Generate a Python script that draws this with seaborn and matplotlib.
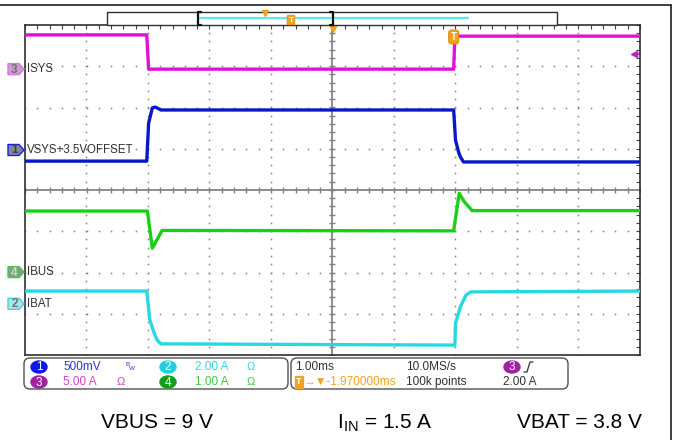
import numpy as np
import pandas as pd
import matplotlib
matplotlib.use('Agg')
import matplotlib.pyplot as plt
import seaborn as sns
from matplotlib.patches import FancyBboxPatch, Ellipse, Polygon, Rectangle

# scope traces: time in ms (trigger at 0), level in screen divisions
isys_t = [-6.97, -4.99, -4.96, 0.0, 0.02, 3.03]
isys_v = [3.76, 3.76, 2.93, 2.93, 3.73, 3.73]

vsys_t = [-6.97, -4.99, -4.96, -4.90, -4.85, -4.76, 0.0, 0.03, 0.08, 0.11, 0.16, 3.03]
vsys_v = [0.70, 0.70, 1.62, 1.99, 2.01, 1.94, 1.94, 1.21, 0.92, 0.80, 0.68, 0.68]

ibus_t = [-6.97, -4.98, -4.90, -4.74, 0.0, 0.09, 0.17, 0.30, 3.03]
ibus_v = [-0.51, -0.51, -1.41, -0.98, -0.99, -0.08, -0.28, -0.50, -0.50]

ibat_t = [-6.97, -4.99, -4.94, -4.87, -4.82, -4.76, 0.02, 0.03, 0.11, 0.20, 0.28, 3.03]
ibat_v = [-2.45, -2.45, -3.15, -3.47, -3.64, -3.73, -3.76, -3.23, -2.83, -2.55, -2.47, -2.45]

# channel name, number, ground level (div)
ch_names = ['ISYS', 'VSYS+3.5VOFFSET', 'IBUS', 'IBAT']
ch_nums = ['3', '1', '4', '2']
ch_levels = [2.93, 0.97, -1.99, -2.76]

center = -1.97  # horizontal position, ms

sns.set_style('white')
plt.rcParams['font.family'] = ['Liberation Sans', 'DejaVu Sans']

fig = plt.figure(figsize=(6.73, 4.40), dpi=100)
ax = fig.add_axes([25/673, 85/440, 615/673, 330/440])
ax.set_xlim(center - 5, center + 5)
ax.set_ylim(-4, 4)

# dotted graticule
ys = np.arange(-4, 4.01, 0.2)
for k in range(-4, 5):
    if k != 0:
        ax.plot(np.full_like(ys, center + k), ys, ls='none', marker='s', ms=1.1, mew=0, color='#808080')
xs = center + np.arange(-5, 5.01, 0.2)
for k in range(-3, 4):
    if k != 0:
        ax.plot(xs, np.full_like(xs, k), ls='none', marker='s', ms=1.1, mew=0, color='#808080')
ax.axhline(0, color='#8c8c8c', lw=1.4)
ax.axvline(center, color='#8c8c8c', lw=1.4)
ax.plot(xs, np.zeros_like(xs), ls='none', marker='|', ms=5, mew=1, color='#808080')
ax.plot(np.full_like(ys, center), ys, ls='none', marker='_', ms=5, mew=1, color='#808080')

ax.set_xticks(center + np.arange(-5, 6))
ax.set_xticks(xs, minor=True)
ax.set_yticks(np.arange(-4, 5))
ax.set_yticks(ys, minor=True)
ax.tick_params(which='both', direction='in', length=3, width=0.8, color='#404040',
               top=True, right=True, labelbottom=False, labelleft=False)
for s in ax.spines.values():
    s.set_color('#303030')
    s.set_linewidth(1.2)

sns.lineplot(x=isys_t, y=isys_v, ax=ax, color='#e010d8', lw=2.4, estimator=None, sort=False, zorder=5)
sns.lineplot(x=vsys_t, y=vsys_v, ax=ax, color='#0818c8', lw=2.4, estimator=None, sort=False, zorder=5)
sns.lineplot(x=ibus_t, y=ibus_v, ax=ax, color='#18d018', lw=2.4, estimator=None, sort=False, zorder=5)
sns.lineplot(x=ibat_t, y=ibat_v, ax=ax, color='#28d8e0', lw=2.4, estimator=None, sort=False, zorder=5)

# trigger marker and level arrow
ax.text(0, 3.71, 'T', ha='center', va='center', color='white', fontsize=7, fontweight='bold', zorder=6,
        bbox=dict(boxstyle='round,pad=0.2,rounding_size=0.3', fc='#f5a020', ec='#e08a10', lw=0.8))
ax.plot([0.5], [0.995], transform=ax.transAxes, marker='v', ms=7, color='#f5a020', clip_on=False, zorder=6)
ax.plot([0.99], [(3.3 + 4) / 8], transform=ax.transAxes, marker='<', ms=5, color='#c020c0', clip_on=False)
ax.plot([0.99, 1.0], [(3.3 + 4) / 8] * 2, transform=ax.transAxes, color='#c020c0', lw=1.2, clip_on=False)

# overlay in pixel coordinates
ov = fig.add_axes([0, 0, 1, 1], zorder=10)
ov.set_xlim(0, 673)
ov.set_ylim(440, 0)
ov.axis('off')
ov.patch.set_alpha(0)

ov.plot([0, 671], [5, 5], color='#202020', lw=1.2)
ov.plot([671, 671], [5, 440], color='#202020', lw=1.2)

# record bar
ov.add_patch(Rectangle((107, 12), 450, 13, fc='white', ec='#303030', lw=1.0))
ov.plot([200, 468], [18, 18], color='#60e8f0', lw=1.6)
for bx, d in [(198, 3), (333, -3)]:
    ov.plot([bx + d, bx, bx, bx + d], [12, 12, 25, 25], color='#101010', lw=1.6)
ov.plot([265], [13], marker='v', ms=5, color='#f5a020')
ov.text(291, 20, 'T', ha='center', va='center', color='white', fontsize=6, fontweight='bold',
        bbox=dict(boxstyle='round,pad=0.15', fc='#f5a020', ec='#e08a10', lw=0.6))

# channel ground markers
mk_face = ['#c8a0c8', '#8088a0', '#78a878', '#a8e4ec']
mk_edge = ['#e070e0', '#1020f0', '#50c050', '#40d0e0']
mk_text = ['#707070', '#404040', '#d0d0d0', '#707070']
for name, num, lvl, fc, ec, tc in zip(ch_names, ch_nums, ch_levels, mk_face, mk_edge, mk_text):
    yp = 190 - lvl * 41.25
    ov.add_patch(Polygon([(8, yp - 5.5), (19, yp - 5.5), (24, yp), (19, yp + 5.5), (8, yp + 5.5)],
                         closed=True, fc=fc, ec=ec, lw=1.0))
    ov.text(14.5, yp + 0.5, num, ha='center', va='center', color=tc, fontsize=8.5, fontweight='bold')
    ov.text(27, yp, name, ha='left', va='center', color='#303030', fontsize=8.3)

# info panel
ov.add_patch(FancyBboxPatch((24, 358), 264, 31, boxstyle='round,pad=0,rounding_size=6',
                            fc='white', ec='#505050', lw=1.0))
ov.add_patch(FancyBboxPatch((291, 358), 277, 31, boxstyle='round,pad=0,rounding_size=6',
                            fc='white', ec='#505050', lw=1.0))

def badge(x, y, num, color):
    ov.add_patch(Ellipse((x, y), 16, 12, fc=color, ec=color))
    ov.text(x, y + 0.5, num, ha='center', va='center', color='white', fontsize=8.5)

badge(39, 367, '1', '#1018e8')
badge(168, 367, '2', '#20d0e0')
badge(39, 382, '3', '#a020a8')
badge(168, 382, '4', '#10a018')
fs = 8.5
ov.text(63, 367, '500mV', color='#3030e8', fontsize=fs, va='center')
ov.text(126, 364, 'B', color='#3030e8', fontsize=4.5, va='center')
ov.text(129, 368, 'W', color='#3030e8', fontsize=4.5, va='center')
ov.text(195, 367, '2.00 A', color='#30d8e8', fontsize=fs, va='center')
ov.text(247, 367, 'Ω', color='#30d8e8', fontsize=8, va='center')
ov.text(63, 382, '5.00 A', color='#d040d0', fontsize=fs, va='center')
ov.text(117, 382, 'Ω', color='#d040d0', fontsize=8, va='center')
ov.text(195, 382, '1.00 A', color='#40c840', fontsize=fs, va='center')
ov.text(247, 382, 'Ω', color='#40c840', fontsize=8, va='center')

ov.text(295, 367, '1.00ms', color='#303030', fontsize=fs, va='center')
ov.text(406, 367, '10.0MS/s', color='#303030', fontsize=fs, va='center')
badge(512, 367, '3', '#a020a8')
ov.plot([524, 527, 530, 533], [372, 372, 362, 362], color='#303030', lw=0.9)
ov.text(299, 382, 'T', ha='center', va='center', color='white', fontsize=6.5, fontweight='bold',
        bbox=dict(boxstyle='square,pad=0.12', fc='#f5a020', ec='#f5a020'))
ov.text(304, 382, '→▼-1.970000ms', color='#f5a020', fontsize=fs, va='center')
ov.text(406, 382, '100k points', color='#303030', fontsize=fs, va='center')
ov.text(503, 382, '2.00 A', color='#303030', fontsize=fs, va='center')

# test conditions
bf = dict(fontsize=15, color='black', va='center', family='Liberation Sans')
ov.text(101, 423, 'VBUS = 9 V', **bf)
ov.text(337, 423, r'I$_\mathregular{IN}$ = 1.5 A', **bf)
ov.text(517, 423, 'VBAT = 3.8 V', **bf)

fig.savefig('out.png', dpi=100)
